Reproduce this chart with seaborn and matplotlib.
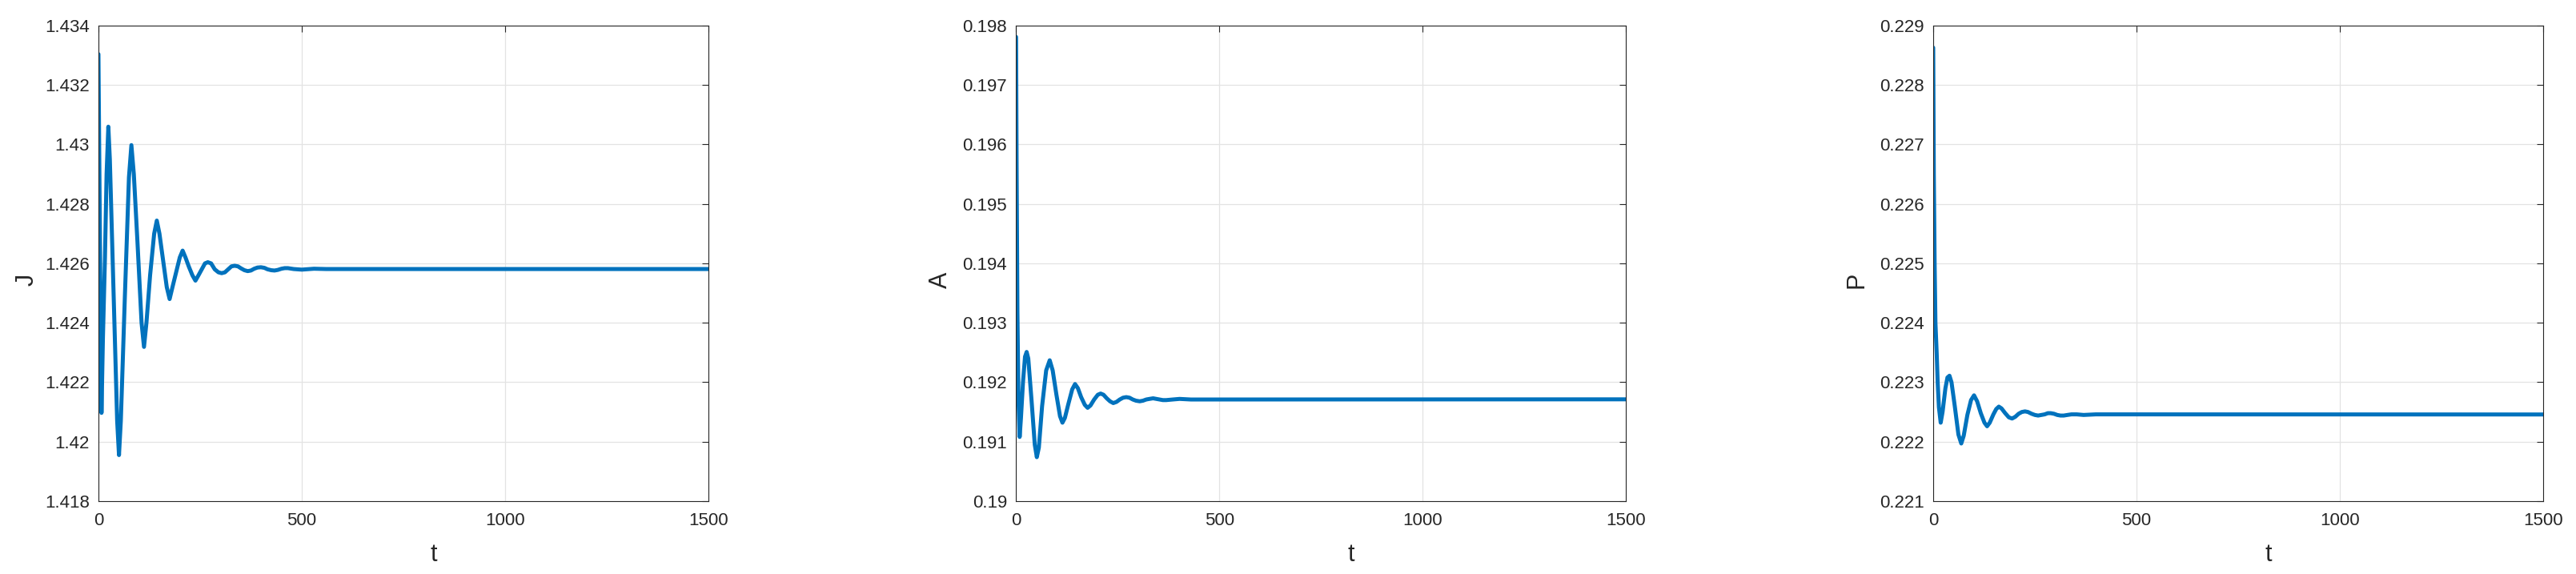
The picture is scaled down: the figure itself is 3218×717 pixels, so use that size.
import seaborn as sns
import matplotlib.pyplot as plt
import pandas as pd

# values
t_J = [0, 3.5, 7.5, 11, 16, 20, 24.3, 28, 37, 46, 50.5, 55, 65, 75, 81, 87, 96, 106, 112, 118,
       127, 137, 143.5, 150, 159, 168, 175, 182, 191, 200, 207, 214, 222, 231, 238.5, 246, 254,
       262, 269, 277, 286, 295, 303, 311, 319, 327, 335, 343, 351, 359, 367, 375, 383, 391,
       399.5, 408, 416, 425, 433, 441, 450, 458, 466, 480, 500, 530, 560, 600, 1500]
J = [1.43304, 1.4270, 1.42097, 1.4235, 1.4262, 1.4290, 1.43060, 1.4295, 1.4251, 1.4207,
     1.41955, 1.4207, 1.4249, 1.4289, 1.42998, 1.4290, 1.4267, 1.4240, 1.42319, 1.4240,
     1.4256, 1.4270, 1.42744, 1.4270, 1.4261, 1.4252, 1.42480, 1.4252, 1.4257, 1.4262,
     1.42643, 1.4262, 1.4259, 1.4256, 1.42542, 1.4256, 1.4258, 1.4260, 1.42604, 1.4260,
     1.4258, 1.4257, 1.42567, 1.4257, 1.4258, 1.4259, 1.42592, 1.42590, 1.42583, 1.42577,
     1.42574, 1.42576, 1.42582, 1.42586, 1.42587, 1.42585, 1.42580, 1.42577, 1.42576,
     1.42578, 1.42582, 1.42584, 1.42584, 1.42581, 1.42579, 1.42582, 1.42581, 1.42581, 1.42581]

t_A = [0, 1.3, 3.3, 5.9, 8.8, 12, 17, 22, 26, 30, 38, 46, 51, 56, 64, 74, 82.7, 90, 99, 108,
       114, 120, 128, 138, 145, 152, 160, 169, 176, 183, 192, 201, 208, 215, 223, 231, 239,
       247, 255, 263, 271, 279, 287, 295, 304, 312, 320, 328, 337, 345, 353, 361, 369, 385,
       402, 430, 1500]
A = [0.19781, 0.19566, 0.19318, 0.19169, 0.19108, 0.19140, 0.19200, 0.19243, 0.19251,
     0.19240, 0.19170, 0.19095, 0.19074, 0.19090, 0.19160, 0.19220, 0.19237, 0.19220,
     0.19180, 0.19143, 0.19132, 0.19140, 0.19162, 0.19188, 0.19197, 0.19190, 0.19175,
     0.19162, 0.19157, 0.19161, 0.19171, 0.19179, 0.19181, 0.19179, 0.19173, 0.19168,
     0.19165, 0.19167, 0.19171, 0.19174, 0.19175, 0.19174, 0.19171, 0.19169, 0.19168,
     0.19169, 0.19171, 0.19172, 0.19173, 0.19172, 0.19171, 0.19170, 0.19170, 0.19171,
     0.19172, 0.19171, 0.191713]

t_P = [0, 1.5, 3.5, 5.5, 8.5, 11, 14, 18.4, 23, 30, 35, 40, 45, 53, 62, 69, 75, 84, 93, 100.4,
       108, 117, 126, 132.5, 139, 148, 155, 161.4, 168, 177, 186, 194, 202, 210, 218, 225.7,
       233, 242, 250, 258, 266, 274, 282, 289, 297, 305, 313, 321, 330, 340, 353, 370, 400, 1500]
P = [0.22863, 0.2265, 0.2250, 0.2240, 0.2235, 0.2230, 0.22258, 0.22232, 0.22250, 0.22290,
     0.22308, 0.22311, 0.22300, 0.22260, 0.22212, 0.22197, 0.22210, 0.22245, 0.22270,
     0.22278, 0.22268, 0.22248, 0.22232, 0.22226, 0.22232, 0.22246, 0.22255, 0.22259,
     0.22256, 0.22248, 0.22241, 0.22239, 0.22242, 0.22247, 0.22250, 0.22251, 0.22250,
     0.22247, 0.22245, 0.22244, 0.22245, 0.22246, 0.22248, 0.22248, 0.22247, 0.22245,
     0.22244, 0.22244, 0.22245, 0.22246, 0.22246, 0.22245, 0.22246, 0.222458]

x_ticks = [0, 500, 1000, 1500]
J_ticks = [1.418, 1.42, 1.422, 1.424, 1.426, 1.428, 1.43, 1.432, 1.434]
J_labels = ['1.418', '1.42', '1.422', '1.424', '1.426', '1.428', '1.43', '1.432', '1.434']
A_ticks = [0.19, 0.191, 0.192, 0.193, 0.194, 0.195, 0.196, 0.197, 0.198]
A_labels = ['0.19', '0.191', '0.192', '0.193', '0.194', '0.195', '0.196', '0.197', '0.198']
P_ticks = [0.221, 0.222, 0.223, 0.224, 0.225, 0.226, 0.227, 0.228, 0.229]
P_labels = ['0.221', '0.222', '0.223', '0.224', '0.225', '0.226', '0.227', '0.228', '0.229']

sns.set_theme(style="white")
plt.rcParams['font.family'] = ['Liberation Sans', 'DejaVu Sans']

dark = '#262626'
blue = '#0072BD'

fig = plt.figure(figsize=(32.18, 7.17), dpi=100)

panels = [
    (0.03822, t_J, J, 'J', J_ticks, J_labels, -0.117),
    (0.39444, t_A, A, 'A', A_ticks, A_labels, -0.1245),
    (0.75047, t_P, P, 'P', P_ticks, P_labels, -0.1247),
]

for left, tt, vals, name, yt, yl, ylab_x in panels:
    ax = fig.add_axes([left, 0.12692, 0.23679, 0.82845])
    df = pd.DataFrame({'t': tt, name: vals})
    sns.lineplot(data=df, x='t', y=name, ax=ax, color=blue, linewidth=3.6,
                 estimator=None, sort=False)
    ax.set_xlim(0, 1500)
    ax.set_ylim(yt[0], yt[-1])
    ax.set_xticks(x_ticks)
    ax.set_xticklabels([str(v) for v in x_ticks])
    ax.set_yticks(yt)
    ax.set_yticklabels(yl)
    ax.grid(True, color='#e3e3e3', linewidth=0.9)
    ax.set_axisbelow(True)
    for sp in ax.spines.values():
        sp.set_visible(True)
        sp.set_color(dark)
        sp.set_linewidth(0.8)
    ax.tick_params(direction='in', top=True, right=True, length=6, width=0.8,
                   color=dark, labelcolor=dark, labelsize=16)
    ax.tick_params(axis='x', pad=10)
    ax.tick_params(axis='y', pad=8)
    ax.set_xlabel('t', fontsize=22, color=dark)
    ax.set_ylabel(name, fontsize=22, color=dark)
    ax.xaxis.label.set_va('center')
    ax.yaxis.label.set_va('center')
    ax.xaxis.set_label_coords(0.549, -0.113)
    ax.yaxis.set_label_coords(ylab_x, 0.465)

fig.savefig('out.png', dpi=100)
